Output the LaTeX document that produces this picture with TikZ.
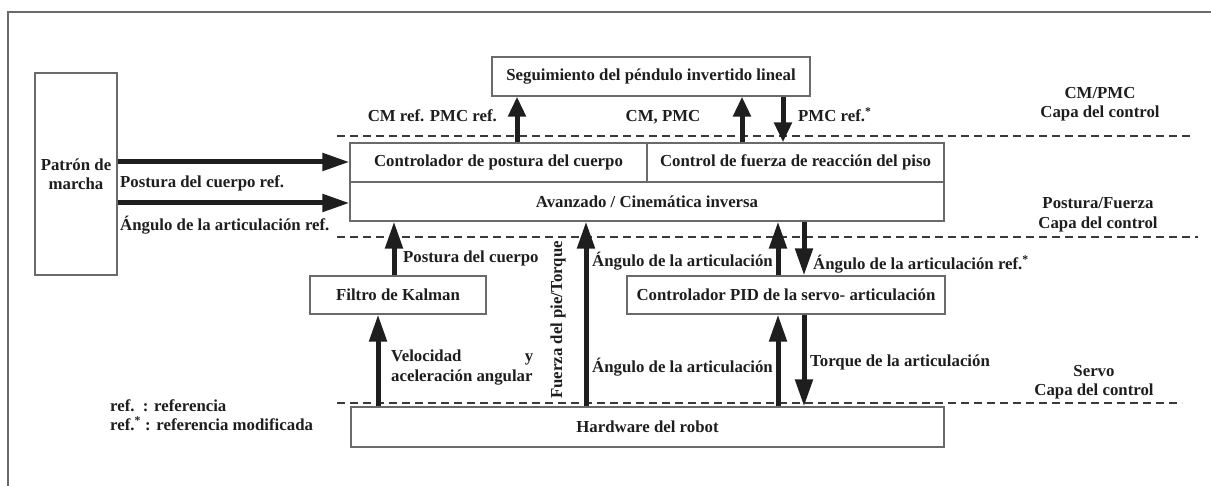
\documentclass[tikz,border=0pt]{standalone}
\usepackage{fontspec}
\setmainfont{Liberation Serif}
\usetikzlibrary{arrows.meta}
\definecolor{ink}{HTML}{1E1E1E}
\definecolor{boxline}{HTML}{6A6A6A}
\definecolor{dashc}{HTML}{3A3A3A}
\tikzset{
  blk/.style={draw=boxline, line width=1.2pt, fill=white, inner sep=0pt, text=ink, font=\bfseries\fontsize{16.8}{19.5}\selectfont, align=center},
  lbl/.style={inner sep=0pt, text=ink, font=\bfseries\fontsize{16.8}{19.5}\selectfont},
  arr/.style={draw=ink, line width=5pt, -{Triangle[length=27pt,width=17pt]}},
  arrs/.style={draw=ink, line width=5pt, -{Triangle[length=20pt,width=17pt]}},
  layer/.style={draw=dashc, line width=1.5pt, dash pattern=on 8pt off 5pt},
}
\begin{document}
\begin{tikzpicture}[x=1pt,y=-1pt]
\useasboundingbox (0,0) rectangle (1211,486);
\begin{scope}
\clip (0,0) rectangle (1211,486);
\draw[boxline, line width=1.5pt] (8,500) -- (8,12) -- (1230,12);
\end{scope}
% layer lines
\draw[layer] (337,136) -- (1193,136);
\draw[layer] (337,237) -- (1198,237);
\draw[layer] (337,403) -- (1182,403);
% blocks
\node[blk, minimum width=82pt, minimum height=202pt] (pat) at (76,174) {Patrón de\\marcha};
\node[blk, minimum width=318pt, minimum height=39pt] (seg) at (651,76.5) {Seguimiento del péndulo invertido lineal};
\node[blk, minimum width=297pt, minimum height=39pt] (cpc) at (498.5,162.5) {Controlador de postura del cuerpo};
\node[blk, minimum width=297pt, minimum height=39pt] (cfr) at (795.5,162.5) {Control de fuerza de reacción del piso};
\node[blk, minimum width=594pt, minimum height=39pt] (avz) at (647,201.5) {Avanzado / Cinemática inversa};
\node[blk, minimum width=176pt, minimum height=38pt] (kal) at (398,295) {Filtro de Kalman};
\node[blk, minimum width=318pt, minimum height=38pt] (pid) at (786,295) {Controlador PID de la servo- articulación};
\node[blk, minimum width=593pt, minimum height=40pt] (hw) at (647.5,427) {Hardware del robot};
% x positions of connectors
\coordinate (xa) at (517,0);
\coordinate (xb) at (742,0);
\coordinate (xc) at (783,0);
\coordinate (xk1) at (394,0);
\coordinate (xk2) at (378,0);
\coordinate (xf) at (586,0);
\coordinate (xu) at (778,0);
\coordinate (xd) at (804,0);
\coordinate (y1) at (0,162);
\coordinate (y2) at (0,203);
% connectors
\draw[arr] (pat.east |- y1) -- (cpc.west |- y1);
\draw[arr] (pat.east |- y2) -- (avz.west |- y2);
\draw[arrs] (cpc.north -| xa) -- (seg.south -| xa);
\draw[arrs] (cfr.north -| xb) -- (seg.south -| xb);
\draw[arrs] (seg.south -| xc) -- (cfr.north -| xc);
\draw[arr] (kal.north -| xk1) -- (avz.south -| xk1);
\draw[arr] (hw.north -| xk2) -- (kal.south -| xk2);
\draw[arr] (hw.north -| xf) -- (avz.south -| xf);
\draw[arr] (pid.north -| xu) -- (avz.south -| xu);
\draw[arr] (avz.south -| xd) -- (pid.north -| xd);
\draw[arr] (hw.north -| xu) -- (pid.south -| xu);
\draw[arr] (pid.south -| xd) -- (hw.north -| xd);
% labels
\node[lbl, anchor=base east] (l1) at (497,122) {CM ref. PMC ref.};
\node[lbl, anchor=base] (l2) at (663,122) {CM, PMC};
\node[lbl, anchor=base west] (l3) at (798,122) {PMC ref.\textsuperscript{*}};
\node[lbl, anchor=base west] (l4) at (120,188) {Postura del cuerpo ref.};
\node[lbl, anchor=base west] (l5) at (120,231) {Ángulo de la articulación ref.};
\node[lbl, anchor=base west] (l6) at (403,263) {Postura del cuerpo};
\node[lbl, anchor=north west, align=left] (l7) at (391,350) {\parbox{142pt}{Velocidad\hfill y\\aceleración angular}};
\node[lbl, rotate=90] (l8) at (558,320) {Fuerza del pie/Torque};
\node[lbl, anchor=base west] (l9) at (592,267) {Ángulo de la articulación};
\node[lbl, anchor=base west] (l10) at (592,373) {Ángulo de la articulación};
\node[lbl, anchor=base west] (l11) at (813,270) {Ángulo de la articulación ref.\textsuperscript{*}};
\node[lbl, anchor=base west] (l12) at (810,367) {Torque de la articulación};
\node[lbl, anchor=base west] (l13) at (110,411) {ref.\ \ : referencia};
\node[lbl, anchor=base west] (l14) at (110,431) {ref.\textsuperscript{*} : referencia modificada};
\node[lbl, align=center] (r1) at (1100,104) {CM/PMC\\Capa del control};
\node[lbl, align=center] (r2) at (1098,215) {Postura/Fuerza\\Capa del control};
\node[lbl, align=center] (r3) at (1094,382) {Servo\\Capa del control};
\end{tikzpicture}
\end{document}
